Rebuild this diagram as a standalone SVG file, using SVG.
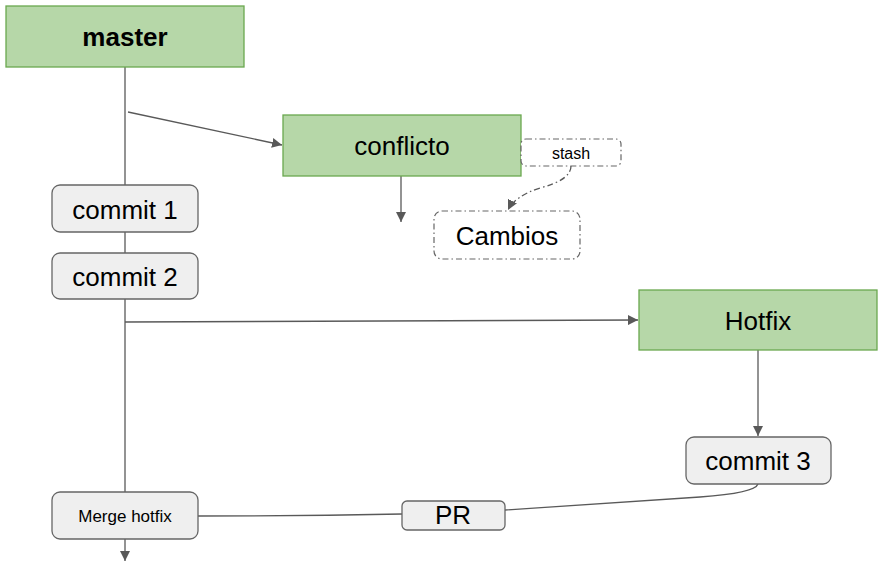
<svg xmlns="http://www.w3.org/2000/svg" width="883" height="568" viewBox="0 0 883 568">
<style>
.branch{fill:#b6d7a8;stroke:#6aa84f;stroke-width:1.3}
.commit{fill:#efefef;stroke:#666;stroke-width:1.3}
.dash{fill:#fff;stroke:#666;stroke-width:1.2;stroke-dasharray:6 3 1.5 3}
.t{font-family:"Liberation Sans",Arial,sans-serif;fill:#000;text-anchor:middle;dominant-baseline:central}
.ln{fill:none;stroke:#595959;stroke-width:1.3}
</style>
<defs>
<marker id="ah" viewBox="0 0 10 10" refX="10" refY="5" markerWidth="10" markerHeight="10" markerUnits="userSpaceOnUse" orient="auto">
<path d="M0,0 L10,5 L0,10 z" fill="#595959"/>
</marker>
</defs>
<rect width="883" height="568" fill="#fff"/>
<g id="connectors">
<line class="ln" x1="125" y1="67" x2="125" y2="492"/>
<line class="ln" x1="128" y1="112" x2="282" y2="145" marker-end="url(#ah)"/>
<line class="ln" x1="401" y1="176" x2="401" y2="222" marker-end="url(#ah)"/>
<path class="ln" d="M571,166 Q571,180 540,188 Q515,196 508,210" stroke-dasharray="6 3 1.5 3" marker-end="url(#ah)"/>
<line class="ln" x1="125" y1="322" x2="638" y2="320" marker-end="url(#ah)"/>
<line class="ln" x1="758" y1="350" x2="758" y2="436" marker-end="url(#ah)"/>
<path class="ln" d="M758,484 Q755,493 700,497 Q600,504 505,510"/>
<path class="ln" d="M402,514 Q300,516 198,516"/>
<line class="ln" x1="125" y1="539" x2="125" y2="561" marker-end="url(#ah)"/>
</g>
<g id="master"><rect class="branch" x="6" y="6" width="238" height="61"/><text class="t" x="125" y="37" font-size="26" font-weight="bold">master</text></g>
<g id="conflicto"><rect class="branch" x="283" y="115" width="238" height="61"/><text class="t" x="402" y="146" font-size="26">conflicto</text></g>
<g id="stash"><rect class="dash" x="521" y="139" width="100" height="27" rx="5"/><text class="t" x="571" y="153" font-size="16">stash</text></g>
<g id="cambios"><rect class="dash" x="434" y="211" width="146" height="48" rx="8"/><text class="t" x="507" y="236" font-size="26">Cambios</text></g>
<g id="commit1"><rect class="commit" x="52" y="185" width="146" height="47" rx="8"/><text class="t" x="125" y="210" font-size="26">commit 1</text></g>
<g id="commit2"><rect class="commit" x="52" y="253" width="146" height="46" rx="8"/><text class="t" x="125" y="277" font-size="26">commit 2</text></g>
<g id="hotfix"><rect class="branch" x="639" y="290" width="238" height="60"/><text class="t" x="758" y="321" font-size="26">Hotfix</text></g>
<g id="commit3"><rect class="commit" x="686" y="437" width="145" height="47" rx="8"/><text class="t" x="758" y="461" font-size="26">commit 3</text></g>
<g id="pr"><rect class="commit" x="402" y="501" width="103" height="29" rx="5"/><text class="t" x="453" y="515" font-size="26">PR</text></g>
<g id="merge"><rect class="commit" x="52" y="492" width="146" height="47" rx="8"/><text class="t" x="125" y="516" font-size="17">Merge hotfix</text></g>
</svg>
